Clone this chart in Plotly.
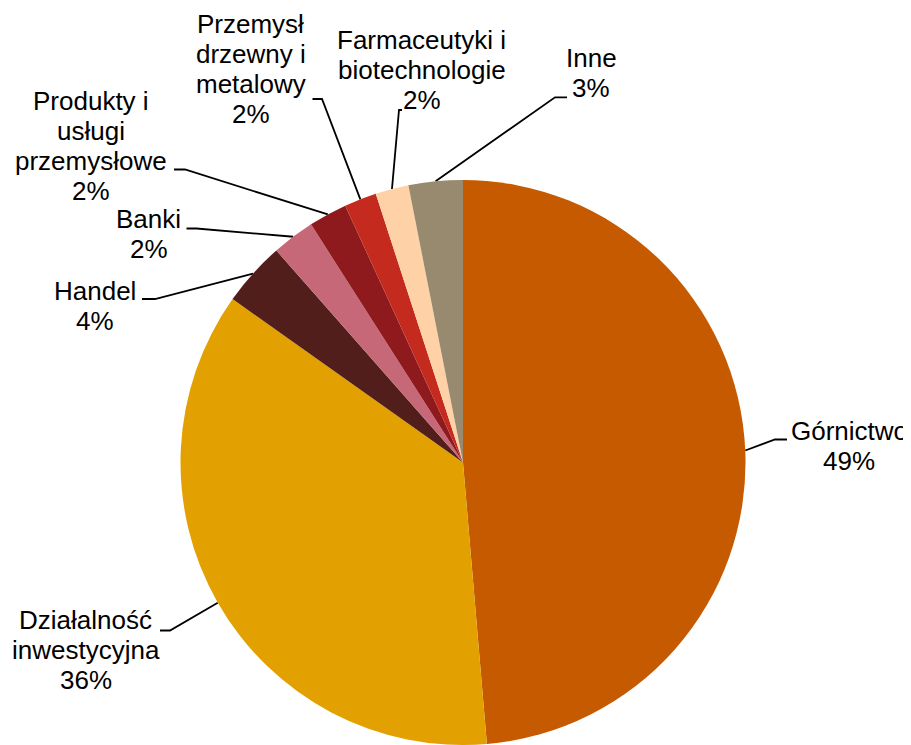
import math
import plotly.graph_objects as go

W, H = 911, 745
OFF = 8  # page body margin; positions below are window pixels

sectors = ["Górnictwo", "Działalność inwestycyjna", "Handel", "Banki",
           "Produkty i usługi przemysłowe", "Przemysł drzewny i metalowy",
           "Farmaceutyki i biotechnologie", "Inne"]
shares = [48.7, 36.2, 3.7, 2.45, 2.2, 1.85, 1.9, 3.1]
colors = ["#C55A00", "#E2A100", "#521E1C", "#C76878",
          "#8E1A1E", "#C42A1E", "#FED1A6", "#978A6E"]

# label text broken the way the original chart breaks it
label_lines = [["Górnictwo"], ["Działalność", "inwestycyjna"], ["Handel"], ["Banki"],
               ["Produkty i", "usługi", "przemysłowe"], ["Przemysł", "drzewny i", "metalowy"],
               ["Farmaceutyki i", "biotechnologie"], ["Inne"]]

# label block: centre x, first baseline y, leader elbow x/y, leader end x (pixels)
label_pos = [
    (849, 440.5, 775, 439.5, 787),
    (85.5, 629.5, 170, 630.5, 160),
    (95, 300, 155, 299, 142),
    (148.5, 228.5, 196.5, 228.5, 186.5),
    (91.3, 110, 185, 169.5, 174),
    (250.7, 33.5, 322, 99, 312.5),
    (421.7, 49.3, 399, 110, 402),
    (591.3, 67, 555, 97.3, 567),
]

CX, CY, R = 463, 462.5, 282.5
FS = 26
LINE = 30
FONT = "Liberation Sans, Arial, sans-serif"

FW, FH = W - OFF, H - OFF

fig = go.Figure()

fig.add_trace(go.Pie(
    labels=sectors,
    values=shares,
    sort=False,
    direction="clockwise",
    rotation=0,
    marker=dict(colors=colors, line=dict(width=0)),
    textinfo="none",
    showlegend=False,
    domain=dict(x=[(CX - R - OFF) / FW, (CX + R - OFF) / FW],
                y=[max(0, (H - CY - R) / FH), (H - CY + R) / FH]),
))

total = sum(shares)
cum = 0
annotations = []
for name, v, lines, pos in zip(sectors, shares, label_lines, label_pos):
    mid = (cum + v / 2) / total * 2 * math.pi
    cum += v
    ex = CX + R * math.sin(mid)
    ey = CY - R * math.cos(mid)
    cx, by, kx, ky, endx = pos
    fig.add_trace(go.Scatter(
        x=[ex, kx, endx], y=[ey, ky, ky],
        mode="lines", line=dict(color="black", width=1.8),
        showlegend=False, hoverinfo="skip",
    ))
    pct = "%d%%" % round(v / total * 100)
    for i, t in enumerate(lines + [pct]):
        annotations.append(dict(
            x=cx, y=by + i * LINE - 0.35 * FS, xref="x", yref="y",
            text=t, showarrow=False, xanchor="center", yanchor="middle",
            font=dict(family=FONT, size=FS, color="black"),
        ))

fig.update_layout(
    width=FW, height=FH,
    margin=dict(l=0, r=0, t=0, b=0),
    paper_bgcolor="white",
    plot_bgcolor="white",
    annotations=annotations,
    xaxis=dict(range=[OFF, W], visible=False, fixedrange=True),
    yaxis=dict(range=[H, OFF], visible=False, fixedrange=True),
)

fig.write_html("out.html")
